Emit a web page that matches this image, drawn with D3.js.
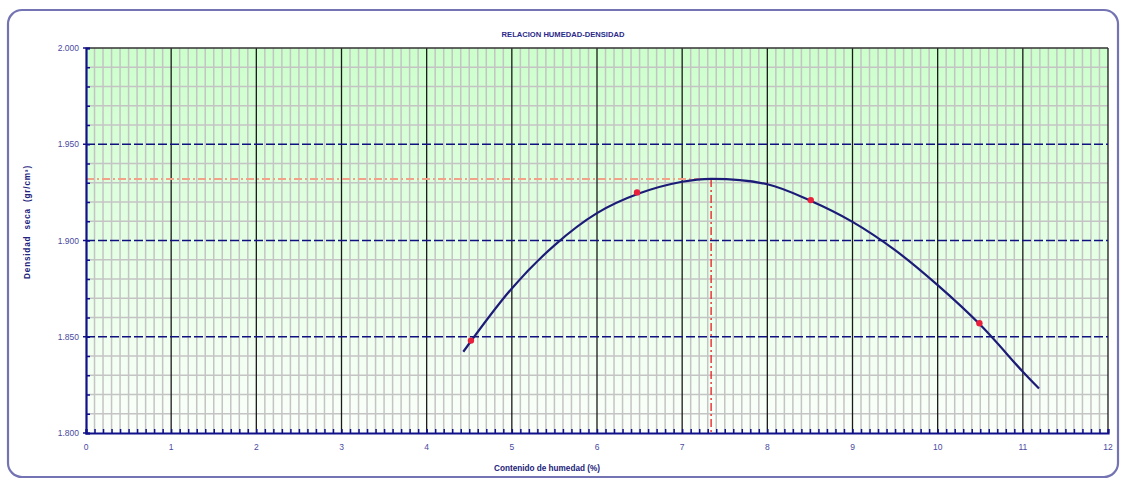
<!DOCTYPE html>
<html lang="es">
<head>
<meta charset="UTF-8" />
<title>Relacion Humedad-Densidad</title>
<script src="https://d3js.org/d3.v7.min.js"></script>
<style>
  body { margin: 0; background: #fff; }
  svg { display: block; font-family: "Liberation Sans", Arial, sans-serif; }
  .tick-label { font-size: 8.5px; fill: #4a4aa0; }
</style>
</head>
<body>
<svg width="1125" height="479"></svg>
<script>
// measured points (humedad %, densidad seca)
const moisture = [4.52, 6.47, 8.51, 10.49];
const density = [1.848, 1.925, 1.921, 1.857];

// fitted curve
const curveX = [4.43, 5.0, 5.5, 6.0, 6.5, 7.0, 7.34, 8.0, 8.5, 9.0, 9.5, 10.0, 10.5, 11.0, 11.19];
const curveY = [1.8422, 1.8751, 1.8975, 1.9142, 1.9245, 1.9305, 1.9320, 1.9292, 1.9208, 1.9097, 1.8950, 1.8768, 1.8562, 1.8318, 1.8231];

// optimum
const optMoisture = 7.34;
const maxDensity = 1.932;

const xTicks = [0, 1, 2, 3, 4, 5, 6, 7, 8, 9, 10, 11, 12];
const yTicks = [1.80, 1.85, 1.90, 1.95, 2.00];
const yTickLabels = ["1.800", "1.850", "1.900", "1.950", "2.000"];

const title = "RELACION HUMEDAD-DENSIDAD";
const xTitle = "Contenido de humedad (%)";
const yTitle = "Densidad  seca  (gr/cm³)";

const svg = d3.select("svg");
const pLeft = 86, pRight = 1108, pTop = 48, pBottom = 433;

const x = d3.scaleLinear().domain([0, 12]).range([pLeft, pRight]);
const y = d3.scaleLinear().domain([1.8, 2.0]).range([pBottom, pTop]);

// outer frame
svg.append("rect")
  .attr("x", 8).attr("y", 10)
  .attr("width", 1110).attr("height", 467)
  .attr("rx", 14)
  .attr("fill", "none")
  .attr("stroke", "#7474b4")
  .attr("stroke-width", 2.2);

// background gradient
const grad = svg.append("defs").append("linearGradient")
  .attr("id", "bg").attr("x1", 0).attr("x2", 0).attr("y1", 0).attr("y2", 1);
grad.append("stop").attr("offset", "0%").attr("stop-color", "#ccffcc");
grad.append("stop").attr("offset", "100%").attr("stop-color", "#fbfffb");

svg.append("rect")
  .attr("x", pLeft).attr("y", pTop)
  .attr("width", pRight - pLeft).attr("height", pBottom - pTop)
  .attr("fill", "url(#bg)");

// minor grid
const grid = svg.append("g");
d3.range(1, 120).filter(i => i % 10 !== 0).forEach(i => {
  grid.append("line")
    .attr("x1", x(i / 10)).attr("x2", x(i / 10))
    .attr("y1", pTop).attr("y2", pBottom)
    .attr("stroke", "#c4c4c4").attr("stroke-width", 1.5);
});
d3.range(1, 20).filter(i => i % 5 !== 0).forEach(i => {
  grid.append("line")
    .attr("x1", pLeft).attr("x2", pRight)
    .attr("y1", y(1.8 + i / 100)).attr("y2", y(1.8 + i / 100))
    .attr("stroke", "#c4c4c4").attr("stroke-width", 1.5);
});

// major vertical lines
xTicks.filter(d => d > 0).forEach(d => {
  grid.append("line")
    .attr("x1", x(d)).attr("x2", x(d))
    .attr("y1", pTop).attr("y2", pBottom)
    .attr("stroke", "#1a1a1a").attr("stroke-width", 1.3);
});

// top border of plot
grid.append("line")
  .attr("x1", pLeft).attr("x2", pRight)
  .attr("y1", pTop).attr("y2", pTop)
  .attr("stroke", "#333").attr("stroke-width", 1.3);

// major horizontal dashed lines
yTicks.filter(d => d > 1.8 && d < 2.0).forEach(d => {
  grid.append("line")
    .attr("x1", pLeft).attr("x2", pRight)
    .attr("y1", y(d)).attr("y2", y(d))
    .attr("stroke", "#101080").attr("stroke-width", 1.6)
    .attr("stroke-dasharray", "9,3");
});

// reference lines at optimum
svg.append("line")
  .attr("x1", x(0)).attr("x2", x(optMoisture))
  .attr("y1", y(maxDensity)).attr("y2", y(maxDensity))
  .attr("stroke", "#f2a288").attr("stroke-width", 2)
  .attr("stroke-dasharray", "8,3,2,3");
svg.append("line")
  .attr("x1", x(optMoisture)).attr("x2", x(optMoisture))
  .attr("y1", y(maxDensity)).attr("y2", y(1.8))
  .attr("stroke", "#e82a2a").attr("stroke-width", 1.4)
  .attr("stroke-dasharray", "8,3,2,3");

// fitted curve
const line = d3.line()
  .x(d => x(d[0])).y(d => y(d[1]))
  .curve(d3.curveCatmullRom);
svg.append("path")
  .datum(curveX.map((v, i) => [v, curveY[i]]))
  .attr("d", line)
  .attr("fill", "none")
  .attr("stroke", "#1c1c78")
  .attr("stroke-width", 2.2);

// points
svg.selectAll(".pt")
  .data(moisture.map((v, i) => [v, density[i]]))
  .join("circle")
  .attr("class", "pt")
  .attr("cx", d => x(d[0])).attr("cy", d => y(d[1]))
  .attr("r", 3.2)
  .attr("fill", "#e8203c");

// axes
const yAxis = d3.axisRight(y)
  .tickValues(d3.range(0, 21).map(i => 1.8 + i / 100))
  .tickSize(4).tickFormat("");
const gy = svg.append("g").attr("transform", `translate(${pLeft},0)`).call(yAxis);
const xAxis = d3.axisTop(x)
  .tickValues(d3.range(0, 121).map(i => i / 10))
  .tickSize(4).tickFormat("");
const gx = svg.append("g").attr("transform", `translate(0,${pBottom})`).call(xAxis);
[gy, gx].forEach(g => {
  g.select(".domain").attr("stroke", "#10108a").attr("stroke-width", 2.2);
  g.selectAll(".tick line").attr("stroke", "#10108a").attr("stroke-width", 1.5);
});

// outward marks at labelled y values
yTicks.forEach(d => {
  svg.append("line")
    .attr("x1", pLeft - 3).attr("x2", pLeft)
    .attr("y1", y(d)).attr("y2", y(d))
    .attr("stroke", "#10108a").attr("stroke-width", 1.5);
});

// tick labels
svg.selectAll(".ylab")
  .data(yTicks)
  .join("text")
  .attr("class", "tick-label ylab")
  .attr("x", pLeft - 7).attr("y", d => y(d) + 3)
  .attr("text-anchor", "end")
  .text((d, i) => yTickLabels[i]);

svg.selectAll(".xlab")
  .data(xTicks)
  .join("text")
  .attr("class", "tick-label xlab")
  .attr("x", d => x(d)).attr("y", pBottom + 17)
  .attr("text-anchor", "middle")
  .text(d => d);

// titles
svg.append("text")
  .attr("x", 563).attr("y", 37)
  .attr("text-anchor", "middle")
  .attr("font-size", 7.6).attr("font-weight", "bold")
  .attr("fill", "#2a2a8a")
  .text(title);

svg.append("text")
  .attr("x", 547).attr("y", 471)
  .attr("text-anchor", "middle")
  .attr("font-size", 8.2).attr("font-weight", "bold")
  .attr("fill", "#22227a")
  .text(xTitle);

svg.append("text")
  .attr("transform", "translate(30,222) rotate(-90)")
  .attr("text-anchor", "middle")
  .attr("font-size", 8.2).attr("font-weight", "bold")
  .attr("letter-spacing", 0.8)
  .attr("fill", "#22227a")
  .style("white-space", "pre")
  .text(yTitle);
</script>
</body>
</html>
